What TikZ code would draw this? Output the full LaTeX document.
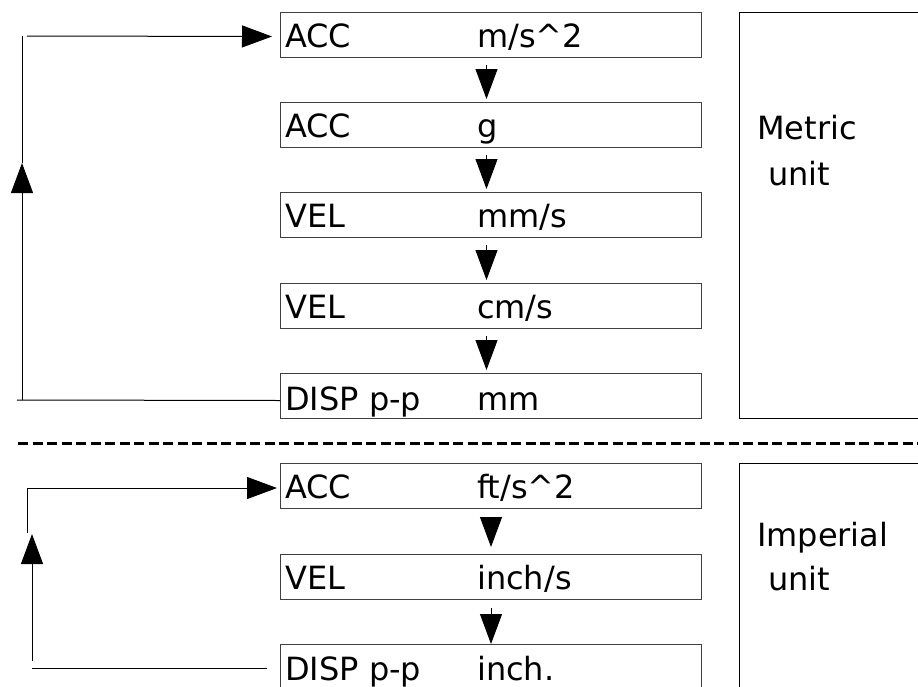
\documentclass[tikz,border=0pt]{standalone}
\usepackage{fontspec}
\setmainfont{DejaVu Sans}
\usetikzlibrary{arrows.meta,calc}
\begin{document}
\begin{tikzpicture}[x=1pt,y=-1pt,
  unitbox/.style={draw=black!75, line width=1pt, minimum width=421pt, minimum height=45pt, inner sep=0pt, anchor=north west},
  sidebox/.style={draw=black, line width=1pt},
  txt/.style={inner sep=0pt, anchor=base west, font=\fontsize{32}{40}\selectfont},
  conn/.style={draw=black, line width=1pt},
  tip/.style={-{Triangle[length=30pt,width=22pt]}}
]
\useasboundingbox (0,0) rectangle (918,686);
\clip (0,0) rectangle (918,686);

% metric boxes
\node[unitbox] (m1) at (280,12) {};
\node[unitbox] (m2) at (280,102) {};
\node[unitbox] (m3) at (280,192) {};
\node[unitbox] (m4) at (280,283) {};
\node[unitbox] (m5) at (280,373) {};
\node[txt] (m1a) at (285,47) {ACC};
\node[txt] (m1b) at (477,47) {m/s\textasciicircum 2};
\node[txt] (m2a) at (285,137) {ACC};
\node[txt] (m2b) at (477,137) {g};
\node[txt] (m3a) at (285,227) {VEL};
\node[txt] (m3b) at (477,227) {mm/s};
\node[txt] (m4a) at (285,318) {VEL};
\node[txt] (m4b) at (477,318) {cm/s};
\node[txt] (m5a) at (285,410) {DISP p-p};
\node[txt] (m5b) at (477,410) {mm};

% metric side box
\draw[sidebox] (739,12) rectangle (940,418);
\node[txt] (met1) at (757,139) {Metric};
\node[txt] (met2) at (768,185) {unit};

% metric down arrows
\draw[conn,tip] ($(m1.south)+(-4.5,7)$) -- ($(m2.north)+(-4.5,-3)$);
\draw[conn,tip] ($(m2.south)+(-4.5,7)$) -- ($(m3.north)+(-4.5,-3)$);
\draw[conn,tip] ($(m3.south)+(-4.5,7)$) -- ($(m4.north)+(-4.5,-3)$);
\draw[conn,tip] ($(m4.south)+(-4.5,7)$) -- ($(m5.north)+(-4.5,-3)$);

% metric loop
\coordinate (mb0) at (17,400);
\coordinate (mv0) at (22,400);
\coordinate (mv1) at (22,163);
\coordinate (mv2) at (22,36);
\coordinate (mt0) at (27,36);
\draw[conn] (mb0) -- ($(m5.west)+(0,4.5)$);
\draw[conn,tip] (mv0) -- (mv1);
\draw[conn] (mv1) -- (mv2);
\draw[conn,tip] (mt0) -- ($(m1.west)+(-8,1.5)$);

% divider
\coordinate (d0) at (18,443);
\coordinate (d1) at (918,443);
\draw[line width=3pt, dash pattern=on 10pt off 4.5pt] (d0) -- (d1);

% imperial boxes
\node[unitbox] (i1) at (280,463) {};
\node[unitbox] (i2) at (280,554) {};
\node[unitbox] (i3) at (280,644) {};
\node[txt] (i1a) at (285,498) {ACC};
\node[txt] (i1b) at (477,498) {ft/s\textasciicircum 2};
\node[txt] (i2a) at (285,589) {VEL};
\node[txt] (i2b) at (477,589) {inch/s};
\node[txt] (i3a) at (285,680) {DISP p-p};
\node[txt] (i3b) at (477,680) {inch.};

% imperial side box
\draw[sidebox] (739,463) rectangle (940,720);
\node[txt] (imp1) at (757,546) {Imperial};
\node[txt] (imp2) at (768,590) {unit};

% imperial down arrows
\draw[conn,tip] ($(i1.south)+(0,8)$) -- ($(i2.north)+(0,-7)$);
\draw[conn,tip] ($(i2.south)+(0,8)$) -- ($(i3.north)+(0,0)$);

% imperial loop
\coordinate (ib0) at (32,668);
\coordinate (ib1) at (267,668);
\coordinate (iv0) at (32,661);
\coordinate (iv1) at (32,534);
\coordinate (iu0) at (27,533);
\coordinate (iu1) at (27,488);
\draw[conn] (ib0) -- (ib1);
\draw[conn,tip] (iv0) -- (iv1);
\draw[conn] (iu0) -- (iu1);
\draw[conn,tip] (iu1) -- ($(i1.west)+(-3,2)$);
\end{tikzpicture}
\end{document}
